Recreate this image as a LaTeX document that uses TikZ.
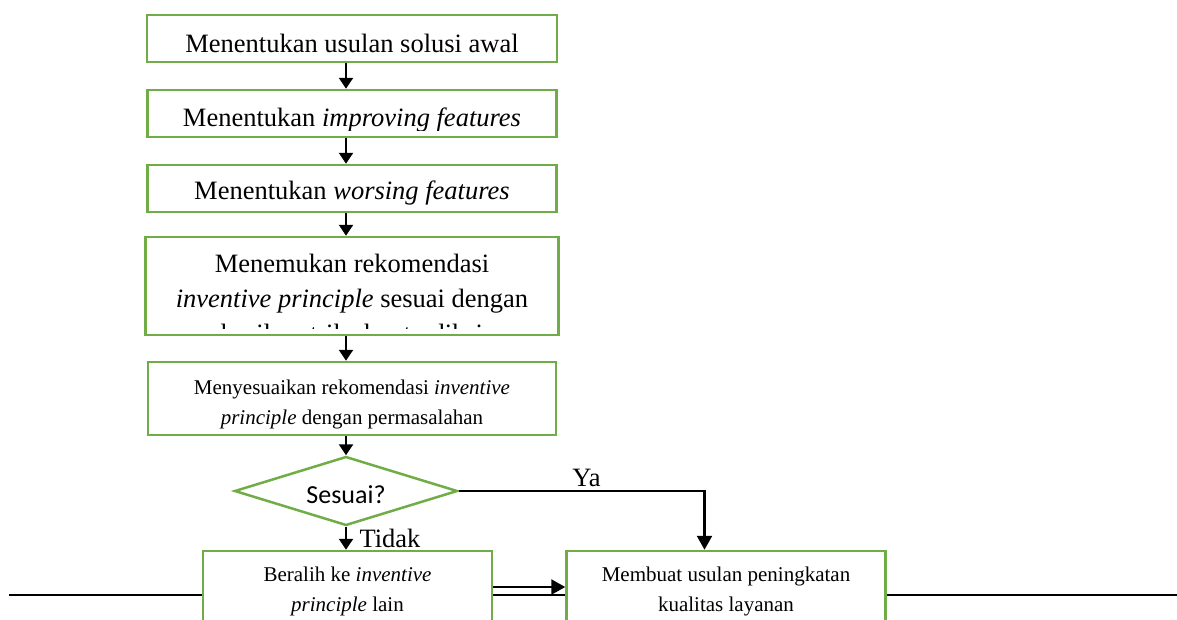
\documentclass[tikz,border=0pt]{standalone}
\usepackage{fontspec}
\setmainfont{Liberation Serif}
\newfontfamily\calibrifont{Carlito}
\usetikzlibrary{positioning,shapes.geometric,arrows.meta}
\definecolor{boxgreen}{RGB}{112,173,71}
\tikzset{
  box/.style={draw=boxgreen, line width=2.5pt, fill=white, inner sep=0pt},
  decision/.style={diamond, aspect=3.3, draw=boxgreen, line width=2.5pt, fill=white,
    inner sep=0pt, text height=24pt, text depth=0pt,
    font=\calibrifont\fontsize{26}{30}\selectfont},
  bigtxt/.style={anchor=base, align=center, inner sep=0pt, draw=none, fill=none,
    font=\fontsize{26.5}{35}\selectfont},
  smalltxt/.style={anchor=base, align=center, inner sep=0pt, draw=none, fill=none,
    font=\fontsize{21}{30}\selectfont},
  % #2 = jarak dari tepi atas ke baseline baris terakhir
  inbox/.style n args={3}{path picture={
    \clip ([yshift=7pt]path picture bounding box.south west)
      rectangle (path picture bounding box.north east);
    \node[#1] at ([yshift=-#2]path picture bounding box.north) {#3};}},
  flow/.style={-{Triangle[width=14pt,length=11pt]}, line width=2.4pt},
  bigflow/.style={-{Triangle[width=15pt,length=14pt]}, line width=2.4pt},
  lbl/.style={font=\fontsize{26.5}{30}\selectfont},
}
\begin{document}
\begin{tikzpicture}[x=1pt, y=-1pt]
\clip (0,0) rectangle (1177,619);
% garis halaman di belakang kotak
\draw[line width=2.2pt] (9,595) -- (1180,595);

\node[box, minimum width=410pt, minimum height=47pt,
  inbox={bigtxt}{37pt}{Menentukan usulan solusi awal}] (b1) at (352,38.5) {};
\node[box, minimum width=409pt, minimum height=47pt, below=25.5pt of b1,
  inbox={bigtxt}{36pt}{Menentukan \textit{improving features}}] (b2) {};
\node[box, minimum width=409pt, minimum height=47pt, below=25.5pt of b2,
  inbox={bigtxt}{34pt}{Menentukan \textit{worsing features}}] (b3) {};
\node[box, minimum width=413pt, minimum height=98pt, below=22.5pt of b3,
  inbox={bigtxt}{105pt}{Menemukan rekomendasi\\
    \textit{inventive principle} sesuai dengan\\ hasil matriks kontradiksi}] (b4) {};
\node[box, minimum width=408pt, minimum height=73pt, below=24.5pt of b4,
  inbox={smalltxt}{62pt}{Menyesuaikan rekomendasi \textit{inventive}\\
    \textit{principle} dengan permasalahan}] (b5) {};
\node[decision, minimum width=223pt, minimum height=69pt, below=19pt of b5,
  xshift=-6pt] (dec) {Sesuai?};
\node[box, minimum width=289pt, minimum height=90pt, below=23pt of dec, xshift=1.5pt,
  inbox={smalltxt}{60pt}{Beralih ke \textit{inventive}\\ \textit{principle} lain}] (br) {};
\node[box, minimum width=319pt, minimum height=90pt, right=72pt of br,
  inbox={smalltxt}{60pt}{Membuat usulan peningkatan\\ kualitas layanan}] (mk) {};

\foreach \a/\b in {b1/b2, b2/b3, b3/b4, b4/b5, b5/dec}
  \draw[flow] (\a.south -| dec) -- (\b.north -| dec);
\draw[flow] (dec.south) -- (br.north -| dec) node[lbl, midway, right, xshift=9pt] {Tidak};
\draw[bigflow] (dec.east) -| ([xshift=-21.5pt]mk.north) node[lbl, pos=0.26, above] {Ya};
\draw[bigflow] ([yshift=9pt]br.east) -- ([yshift=9pt]br.east -| mk.west);
\end{tikzpicture}
\end{document}
